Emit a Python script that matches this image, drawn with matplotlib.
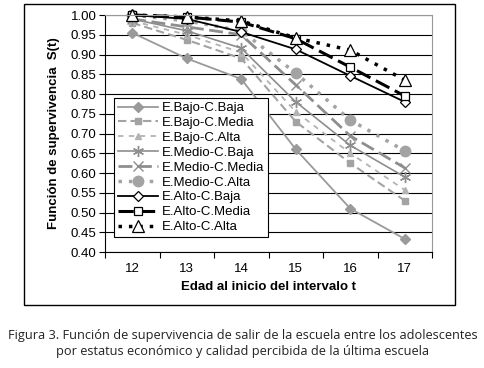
import matplotlib
matplotlib.use("Agg")
import matplotlib.pyplot as plt
from matplotlib.patches import Rectangle

matplotlib.rc("font", family="Liberation Sans")

# ── data ──────────────────────────────────────────────────────────────────────
edades = [12, 13, 14, 15, 16, 17]

bajo_baja   = [0.955, 0.890, 0.838, 0.660, 0.510, 0.433]
bajo_media  = [0.980, 0.937, 0.890, 0.730, 0.625, 0.530]
bajo_alta   = [0.985, 0.950, 0.905, 0.755, 0.650, 0.557]
medio_baja  = [0.990, 0.960, 0.916, 0.780, 0.670, 0.590]
medio_media = [0.990, 0.970, 0.950, 0.823, 0.694, 0.613]
medio_alta  = [1.000, 0.985, 0.960, 0.853, 0.734, 0.656]
alto_baja   = [1.000, 0.990, 0.957, 0.913, 0.846, 0.780]
alto_media  = [1.000, 0.995, 0.982, 0.940, 0.868, 0.795]
alto_alta   = [1.000, 0.995, 0.985, 0.942, 0.911, 0.835]

series = [
    ("E.Bajo-C.Baja",   bajo_baja),
    ("E.Bajo-C.Media",  bajo_media),
    ("E.Bajo-C.Alta",   bajo_alta),
    ("E.Medio-C.Baja",  medio_baja),
    ("E.Medio-C.Media", medio_media),
    ("E.Medio-C.Alta",  medio_alta),
    ("E.Alto-C.Baja",   alto_baja),
    ("E.Alto-C.Media",  alto_media),
    ("E.Alto-C.Alta",   alto_alta),
]

# ── styles ────────────────────────────────────────────────────────────────────
G1, G2, G3, G4 = "#9a9a9a", "#a3a3a3", "#b3b3b3", "#8e8e8e"
styles = [
    dict(color=G1, ls="-", lw=1.3, marker="D", ms=5, mfc=G1, mec=G1),
    dict(color=G2, ls=(0, (4, 2)), lw=1.5, marker="s", ms=4, mfc=G2, mec=G2),
    dict(color=G3, ls=(0, (3, 3)), lw=1.3, marker="^", ms=5, mfc=G3, mec=G3),
    dict(color=G4, ls="-", lw=1.2, marker=(6, 2, 0), ms=8, mfc=G4, mec=G4, mew=1.0),
    dict(color=G4, ls=(0, (5, 2)), lw=2.0, marker="x", ms=7, mfc=G4, mec=G4, mew=1.0),
    dict(color=G2, ls=(0, (1, 2)), lw=2.5, marker="o", ms=7.5, mfc=G2, mec=G2),
    dict(color="black", ls="-", lw=1.3, marker="D", ms=5, mfc="white", mec="black", mew=0.9),
    dict(color="black", ls=(0, (5, 2)), lw=2.2, marker="s", ms=6, mfc="white", mec="black", mew=0.9),
    dict(color="black", ls=(0, (1, 2)), lw=2.5, marker="^", ms=8, mfc="white", mec="black", mew=0.9),
]

# ── figure ────────────────────────────────────────────────────────────────────
fig = plt.figure(figsize=(4.85, 3.68), dpi=100)
ax = fig.add_axes([105 / 485, 1 - 252 / 368, 327 / 485, 237 / 368])

# outer chart frame
fig.patches.append(Rectangle((24 / 485, 1 - 305 / 368), 431 / 485, 301 / 368,
                             transform=fig.transFigure, fill=False,
                             edgecolor="black", lw=1.0, zorder=0))

x = list(range(len(edades)))
for (label, vals), st in zip(series, styles):
    ax.plot(x, vals, label=label, clip_on=False, **st)

ax.set_xlim(-0.5, len(edades) - 0.5)
ax.set_ylim(0.40, 1.00)
ax.set_yticks([0.40 + 0.05 * i for i in range(13)])
ax.yaxis.set_major_formatter(matplotlib.ticker.FormatStrFormatter("%.2f"))
ax.set_xticks(x)
ax.set_xticklabels([str(e) for e in edades])
ax.set_xticks([i - 0.5 for i in range(len(edades) + 1)], minor=True)
ax.tick_params(axis="x", which="major", length=0, labelsize=9.5, pad=8)
ax.tick_params(axis="x", which="minor", length=4, width=0.8)
ax.tick_params(axis="y", labelsize=9.5, length=4, width=0.8, pad=2)

ax.grid(axis="y", color="black", lw=0.8)
ax.set_axisbelow(True)
for s in ("top", "right"):
    ax.spines[s].set_color("#999999")
ax.spines["left"].set_linewidth(0.8)
ax.spines["bottom"].set_linewidth(0.8)

ax.set_ylabel("Función de supervivencia  S(t)", fontsize=9.5, fontweight="bold", labelpad=8)
ax.set_xlabel("Edad al inicio del intervalo t", fontsize=9.5, fontweight="bold", labelpad=4)

leg = ax.legend(loc="upper left", bbox_to_anchor=(9 / 327, 1 - 83 / 237),
                fontsize=9.5, frameon=True, fancybox=False, framealpha=1,
                edgecolor="black", borderpad=0.3, labelspacing=0.2,
                handlelength=3.0, handletextpad=0.3, borderaxespad=0)
leg.get_frame().set_linewidth(0.8)

fig.text(0.5, 1 - 343 / 368,
         "Figura 3. Función de supervivencia de salir de la escuela entre los adolescentes\n"
         "por estatus económico y calidad percibida de la última escuela",
         ha="center", va="center", fontsize=9.2, family="Open Sans",
         color="#222222", linespacing=1.3)

fig.savefig("out.png", dpi=100)
